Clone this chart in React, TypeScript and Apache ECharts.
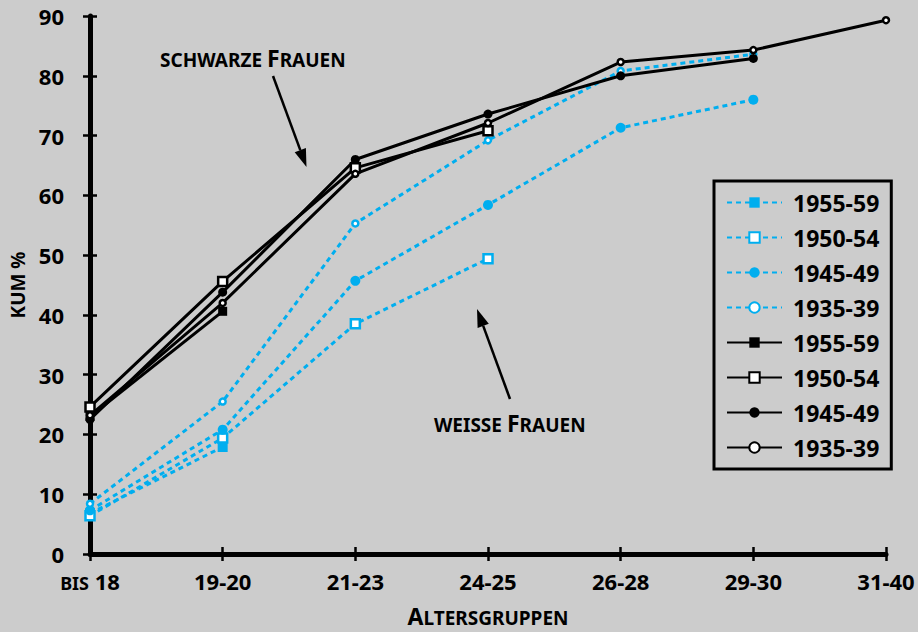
import React, { useEffect, useRef } from "react";
import * as echarts from "echarts";

const categories = ["bis 18", "19-20", "21-23", "24-25", "26-28", "29-30", "31-40"];
const yTicks = [0, 90, 10];

// weisse Frauen (blue, dashed)
const weiss5559 = [6.8, 17.9];
const weiss5054 = [6.4, 19.4, 38.5, 49.4];
const weiss4549 = [7.3, 20.8, 45.7, 58.4, 71.3, 76.0];
const weiss3539 = [8.4, 25.5, 55.3, 69.2, 80.8, 83.6];

// schwarze Frauen (black, solid)
const schwarz5559 = [23.0, 40.6];
const schwarz5054 = [24.6, 45.6, 64.6, 70.8];
const schwarz4549 = [22.5, 43.8, 66.0, 73.6, 80.0, 82.9];
const schwarz3539 = [23.2, 42.0, 63.6, 72.1, 82.3, 84.3, 89.3];

const cohortLabels = ["1955-59", "1950-54", "1945-49", "1935-39"];

const FONT = "'Noto Sans', 'DejaVu Sans', sans-serif";
const BLUE = "#00aeef";
const BLACK = "#000000";
const BG = "#cccccc";

function mkSeries(
  name: string,
  data: number[],
  color: string,
  dashed: boolean,
  symbol: string,
  open: boolean,
  size: number
) {
  return {
    type: "line",
    name,
    data,
    symbol,
    symbolSize: size,
    showSymbol: true,
    lineStyle: {
      color,
      width: 3,
      type: dashed ? [5, 4] : "solid",
    },
    itemStyle: open
      ? { color: "#ffffff", borderColor: color, borderWidth: 2.5 }
      : { color, borderColor: color, borderWidth: 0 },
    emphasis: { disabled: true },
    z: dashed ? 2 : 3,
  };
}

export default function App() {
  const ref = useRef<HTMLDivElement>(null);

  useEffect(() => {
    if (!ref.current) return;
    const chart = echarts.init(ref.current, undefined, { renderer: "svg" });

    const wNames = cohortLabels.map((c) => "w" + c);
    const sNames = cohortLabels.map((c) => "s" + c);

    const series: any[] = [
      mkSeries(wNames[0], weiss5559, BLUE, true, "rect", false, 10),
      mkSeries(wNames[1], weiss5054, BLUE, true, "rect", true, 9),
      mkSeries(wNames[2], weiss4549, BLUE, true, "circle", false, 10),
      mkSeries(wNames[3], weiss3539, BLUE, true, "circle", true, 6),
      mkSeries(sNames[0], schwarz5559, BLACK, false, "rect", false, 9),
      mkSeries(sNames[1], schwarz5054, BLACK, false, "rect", true, 9),
      mkSeries(sNames[2], schwarz4549, BLACK, false, "circle", false, 9),
      mkSeries(sNames[3], schwarz3539, BLACK, false, "circle", true, 6),
    ];

    const labelStyle = {
      fontFamily: FONT,
      fontWeight: "bold",
      fontSize: 22,
      color: "#000",
    };
    const smallCap = { fontFamily: FONT, fontWeight: "bold", fontSize: 19, color: "#000", verticalAlign: "bottom" };
    const bigCap = { fontFamily: FONT, fontWeight: "bold", fontSize: 23, color: "#000", verticalAlign: "bottom" };

    const option: any = {
      animation: false,
      backgroundColor: BG,
      grid: { left: 89, right: 32, top: 16, bottom: 70, containLabel: false },
      legend: {
        orient: "vertical",
        left: 714,
        top: 181,
        padding: [10, 12, 10, 12],
        borderColor: "#000",
        borderWidth: 3,
        itemWidth: 55,
        itemHeight: 13,
        itemGap: 12,
        selectedMode: false,
        data: [...wNames, ...sNames],
        formatter: (n: string) => n.slice(1),
        textStyle: { ...labelStyle, fontSize: 23, padding: [0, 0, 0, 6] },
      },
      xAxis: [
        {
          type: "category",
          data: categories,
          boundaryGap: false,
          axisLine: { show: true, lineStyle: { color: "#000", width: 5 } },
          axisTick: { show: true, length: 7, interval: 0, lineStyle: { color: "#000", width: 2.5 } },
          axisLabel: {
            ...labelStyle,
            margin: 16,
            interval: 0,
            hideOverlap: false,
            formatter: (v: string) => (v === "bis 18" ? "{s|BIS} {n|18}" : v),
            rich: {
              s: { fontFamily: FONT, fontWeight: "bold", fontSize: 18, color: "#000", verticalAlign: "bottom" },
              n: { fontFamily: FONT, fontWeight: "bold", fontSize: 22, color: "#000", verticalAlign: "bottom" },
            },
          },
          splitLine: { show: false },
          name: "{a|A}{b|LTERSGRUPPEN}",
          nameLocation: "middle",
          nameGap: 50,
          nameTextStyle: { rich: { a: bigCap, b: smallCap } },
        },
        {
          type: "category",
          data: categories,
          boundaryGap: false,
          position: "bottom",
          axisLine: { show: false },
          axisTick: { show: true, inside: true, interval: 0, length: 7, lineStyle: { color: "#000", width: 2.5 } },
          axisLabel: { show: false },
          splitLine: { show: false },
        },
      ],
      yAxis: [
        {
          type: "value",
          min: yTicks[0],
          max: yTicks[1],
          interval: yTicks[2],
          axisLine: { show: true, lineStyle: { color: "#000", width: 5 } },
          axisTick: { show: true, length: 7, lineStyle: { color: "#000", width: 2.5 } },
          axisLabel: { ...labelStyle, margin: 26 },
          splitLine: { show: false },
          name: "KUM %",
          nameLocation: "middle",
          nameGap: 63,
          nameTextStyle: { fontFamily: FONT, fontWeight: "bold", fontSize: 19, color: "#000" },
        },
        {
          type: "value",
          min: yTicks[0],
          max: yTicks[1],
          interval: yTicks[2],
          position: "left",
          axisLine: { show: false },
          axisTick: { show: true, inside: true, length: 7, lineStyle: { color: "#000", width: 2.5 } },
          axisLabel: { show: false },
          splitLine: { show: false },
        },
      ],
      series,
      graphic: [
        {
          type: "text",
          x: 160,
          y: 69,
          style: {
            text: "{s|SCHWARZE }{c|F}{s|RAUEN}",
            verticalAlign: "bottom",
            rich: { s: smallCap, c: bigCap },
          },
        },
        {
          type: "text",
          x: 434,
          y: 434,
          style: {
            text: "{s|WEISSE }{c|F}{s|RAUEN}",
            verticalAlign: "bottom",
            rich: { s: smallCap, c: bigCap },
          },
        },
        {
          type: "line",
          shape: { x1: 273, y1: 76, x2: 300.3, y2: 150.1 },
          style: { stroke: "#000", lineWidth: 2.5 },
        },
        {
          type: "polygon",
          shape: { points: [[306.5, 167], [294.7, 152.2], [305.9, 148.0]] },
          style: { fill: "#000" },
        },
        {
          type: "line",
          shape: { x1: 510, y1: 399, x2: 483.2, y2: 325.9 },
          style: { stroke: "#000", lineWidth: 2.5 },
        },
        {
          type: "polygon",
          shape: { points: [[477, 309], [488.8, 323.8], [477.6, 328.0]] },
          style: { fill: "#000" },
        },
      ],
    };

    chart.setOption(option);
    return () => chart.dispose();
  }, []);

  return (
    <div
      ref={ref}
      style={{ position: "absolute", left: 0, top: 0, width: 918, height: 632 }}
    />
  );
}
